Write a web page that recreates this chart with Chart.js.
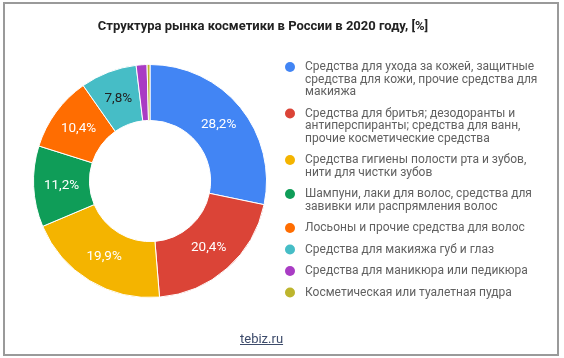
<!DOCTYPE html>
<html>
<head>
<meta charset="utf-8">
<script src="https://cdn.jsdelivr.net/npm/chart.js@4.4.0/dist/chart.umd.min.js"></script>
<style>
  html, body { margin: 0; padding: 0; background: #fff; }
  #wrap { position: relative; width: 564px; height: 358px; overflow: hidden; }
  #frame { position: absolute; left: 3px; top: 2px; width: 552px; height: 350px; border: 2px solid #9a9a9a; }
  #chart { position: absolute; left: 0; top: 0; }
  #src { position: absolute; left: 240px; top: 331px; font: 13px Roboto, sans-serif; color: #3d4b6b; text-decoration: underline; }
</style>
</head>
<body>
<div id="wrap">
  <div id="frame"></div>
  <canvas id="chart" width="564" height="358"></canvas>
  <span id="src">tebiz.ru</span>
</div>
<script>
const chartTitle = 'Структура рынка косметики в России в 2020 году, [%]';

// categories, wrapped as in the legend of the source
const categories = [
  ['Средства для ухода за кожей, защитные', 'средства для кожи, прочие средства для', 'макияжа'],
  ['Средства для бритья; дезодоранты и', 'антиперспиранты; средства для ванн,', 'прочие косметические средства'],
  ['Средства гигиены полости рта и зубов,', 'нити для чистки зубов'],
  ['Шампуни, лаки для волос, средства для', 'завивки или распрямления волос'],
  ['Лосьоны и прочие средства для волос'],
  ['Средства для макияжа губ и глаз'],
  ['Средства для маникюра или педикюра'],
  ['Косметическая или туалетная пудра']
];
const shares = [28.2, 20.4, 19.9, 11.2, 10.4, 7.8, 1.5, 0.4];
const colors = ['#4285F4', '#DB4437', '#F4B400', '#0F9D58', '#FF6D01', '#46BDC6', '#A93CC4', '#BDB52D'];
const labelColors = ['#fff', '#fff', '#fff', '#fff', '#fff', '#222', '#fff', '#fff'];
const minLabelShare = 5;

const overlay = {
  id: 'overlay',
  afterDraw(chart) {
    const ctx = chart.ctx;
    ctx.save();

    // title
    ctx.font = 'bold 13px Roboto, sans-serif';
    ctx.fillStyle = '#222';
    ctx.textAlign = 'center';
    ctx.textBaseline = 'middle';
    ctx.fillText(chartTitle, 263, 27);

    // slice labels
    const arcs = chart.getDatasetMeta(0).data;
    ctx.font = '13.5px Roboto, sans-serif';
    arcs.forEach((arc, i) => {
      if (shares[i] < minLabelShare) return;
      const p = arc.tooltipPosition();
      ctx.fillStyle = labelColors[i];
      ctx.fillText(String(shares[i]).replace('.', ',') + '%', p.x, p.y);
    });

    // legend
    ctx.textAlign = 'left';
    ctx.font = '12px Roboto, sans-serif';
    let y = 67;
    const lineH = 12.5;
    categories.forEach((lines, i) => {
      ctx.fillStyle = colors[i];
      ctx.beginPath();
      ctx.arc(290, y, 5, 0, Math.PI * 2);
      ctx.fill();
      ctx.fillStyle = '#616161';
      lines.forEach((ln, k) => ctx.fillText(ln, 305, y + k * lineH));
      y += (lines.length - 1) * lineH + 21.5;
    });
    ctx.restore();
  }
};

new Chart(document.getElementById('chart'), {
  type: 'doughnut',
  data: {
    labels: categories.map(l => l.join(' ')),
    datasets: [{
      data: shares,
      backgroundColor: colors,
      borderColor: '#fff',
      borderWidth: 1
    }]
  },
  options: {
    responsive: false,
    animation: false,
    cutout: '52%',
    layout: { padding: { left: 33, top: 64, right: 297, bottom: 60 } },
    plugins: {
      legend: { display: false },
      tooltip: { enabled: false }
    }
  },
  plugins: [overlay]
});
</script>
</body>
</html>
